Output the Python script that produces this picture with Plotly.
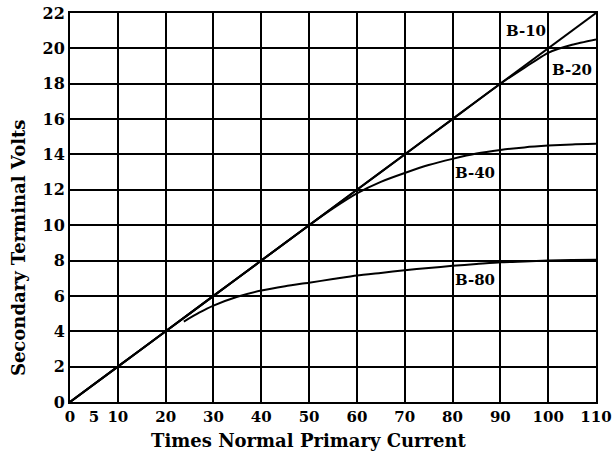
import plotly.graph_objects as go

# Data
x_b10 = [0, 110]
y_b10 = [0, 22]

x_b20 = [0, 10, 20, 30, 40, 50, 60, 70, 80, 90, 95, 100, 105, 110]
y_b20 = [0, 2, 4, 6, 8, 10, 12, 14, 16, 18, 18.9, 19.75, 20.2, 20.5]

x_b40 = [0, 10, 20, 30, 40, 50, 55, 60, 65, 70, 75, 80, 85, 90, 95, 100, 105, 110]
y_b40 = [0, 2, 4, 6, 8, 10, 10.95, 11.8, 12.45, 12.95, 13.4, 13.75, 14.05, 14.25, 14.4, 14.5, 14.57, 14.6]

x_b80 = [23.8, 27, 30, 35, 40, 45, 50, 55, 60, 65, 70, 75, 80, 85, 90, 95, 100, 105, 110]
y_b80 = [4.55, 5.05, 5.45, 5.95, 6.3, 6.55, 6.75, 6.95, 7.15, 7.3, 7.45, 7.58, 7.7, 7.8, 7.9, 7.95, 8.0, 8.03, 8.05]

x_tick_labels = [0, 5, 10, 20, 30, 40, 50, 60, 70, 80, 90, 100, 110]
x_grid = [0, 10, 20, 30, 40, 50, 60, 70, 80, 90, 100, 110]
y_ticks = [0, 2, 4, 6, 8, 10, 12, 14, 16, 18, 20, 22]

labels = ["B-10", "B-20", "B-40", "B-80"]
label_x = [90.9, 100.6, 80.4, 80.4]
label_y = [21.0, 18.8, 12.95, 6.9]

x_title = "Times Normal Primary Current"
y_title = "Secondary Terminal Volts"

FONT = "DejaVu Serif"

fig = go.Figure()
for xs, ys in [(x_b10, y_b10), (x_b20, y_b20), (x_b40, y_b40), (x_b80, y_b80)]:
    fig.add_trace(go.Scatter(x=xs, y=ys, mode="lines",
                             line=dict(color="black", width=2, shape="spline", smoothing=0.6),
                             showlegend=False, hoverinfo="skip"))

for t, lx, ly in zip(labels, label_x, label_y):
    fig.add_annotation(x=lx, y=ly, text=t, showarrow=False, xanchor="left", yanchor="middle",
                       font=dict(family=FONT, size=15, color="black", weight="bold"),
                       bgcolor="white", borderpad=0)

# axis titles (placed as in the reference, slightly off-centre)
fig.add_annotation(xref="paper", yref="paper", x=0.4545, y=-0.098, text=x_title, showarrow=False,
                   xanchor="center", yanchor="middle",
                   font=dict(family=FONT, size=18, color="black", weight="bold"))
fig.add_annotation(xref="paper", yref="paper", x=-0.099, y=0.398, text=y_title, showarrow=False,
                   textangle=-90, xanchor="center", yanchor="middle",
                   font=dict(family=FONT, size=18, color="black", weight="bold"))

fig.update_layout(
    width=613, height=464,
    margin=dict(l=70, r=17, t=13, b=62),
    paper_bgcolor="white", plot_bgcolor="white",
    font=dict(family=FONT, size=15, color="black", weight="bold"),
    xaxis=dict(range=[0, 110], tickmode="array", tickvals=x_tick_labels,
               ticktext=[str(v) for v in x_tick_labels], showgrid=False, zeroline=False,
               showline=True, linecolor="black", linewidth=2, mirror=True, ticks="",
               ticklabeloverflow="allow", automargin=False,
               tickfont=dict(family=FONT, size=15, color="black", weight="bold"),
               minor=dict(tickmode="array", tickvals=x_grid, showgrid=True, gridcolor="black", gridwidth=2, ticks=""),
               fixedrange=True),
    yaxis=dict(range=[0, 22], tickmode="array", tickvals=y_ticks, showgrid=True, gridcolor="black",
               gridwidth=2, zeroline=False, showline=True, linecolor="black", linewidth=2, mirror=True,
               ticks="", ticklabelstandoff=0, automargin=False, ticklabeloverflow="allow",
               tickfont=dict(family=FONT, size=16, color="black", weight="bold"),
               fixedrange=True),
)

fig.write_html("out.html")
